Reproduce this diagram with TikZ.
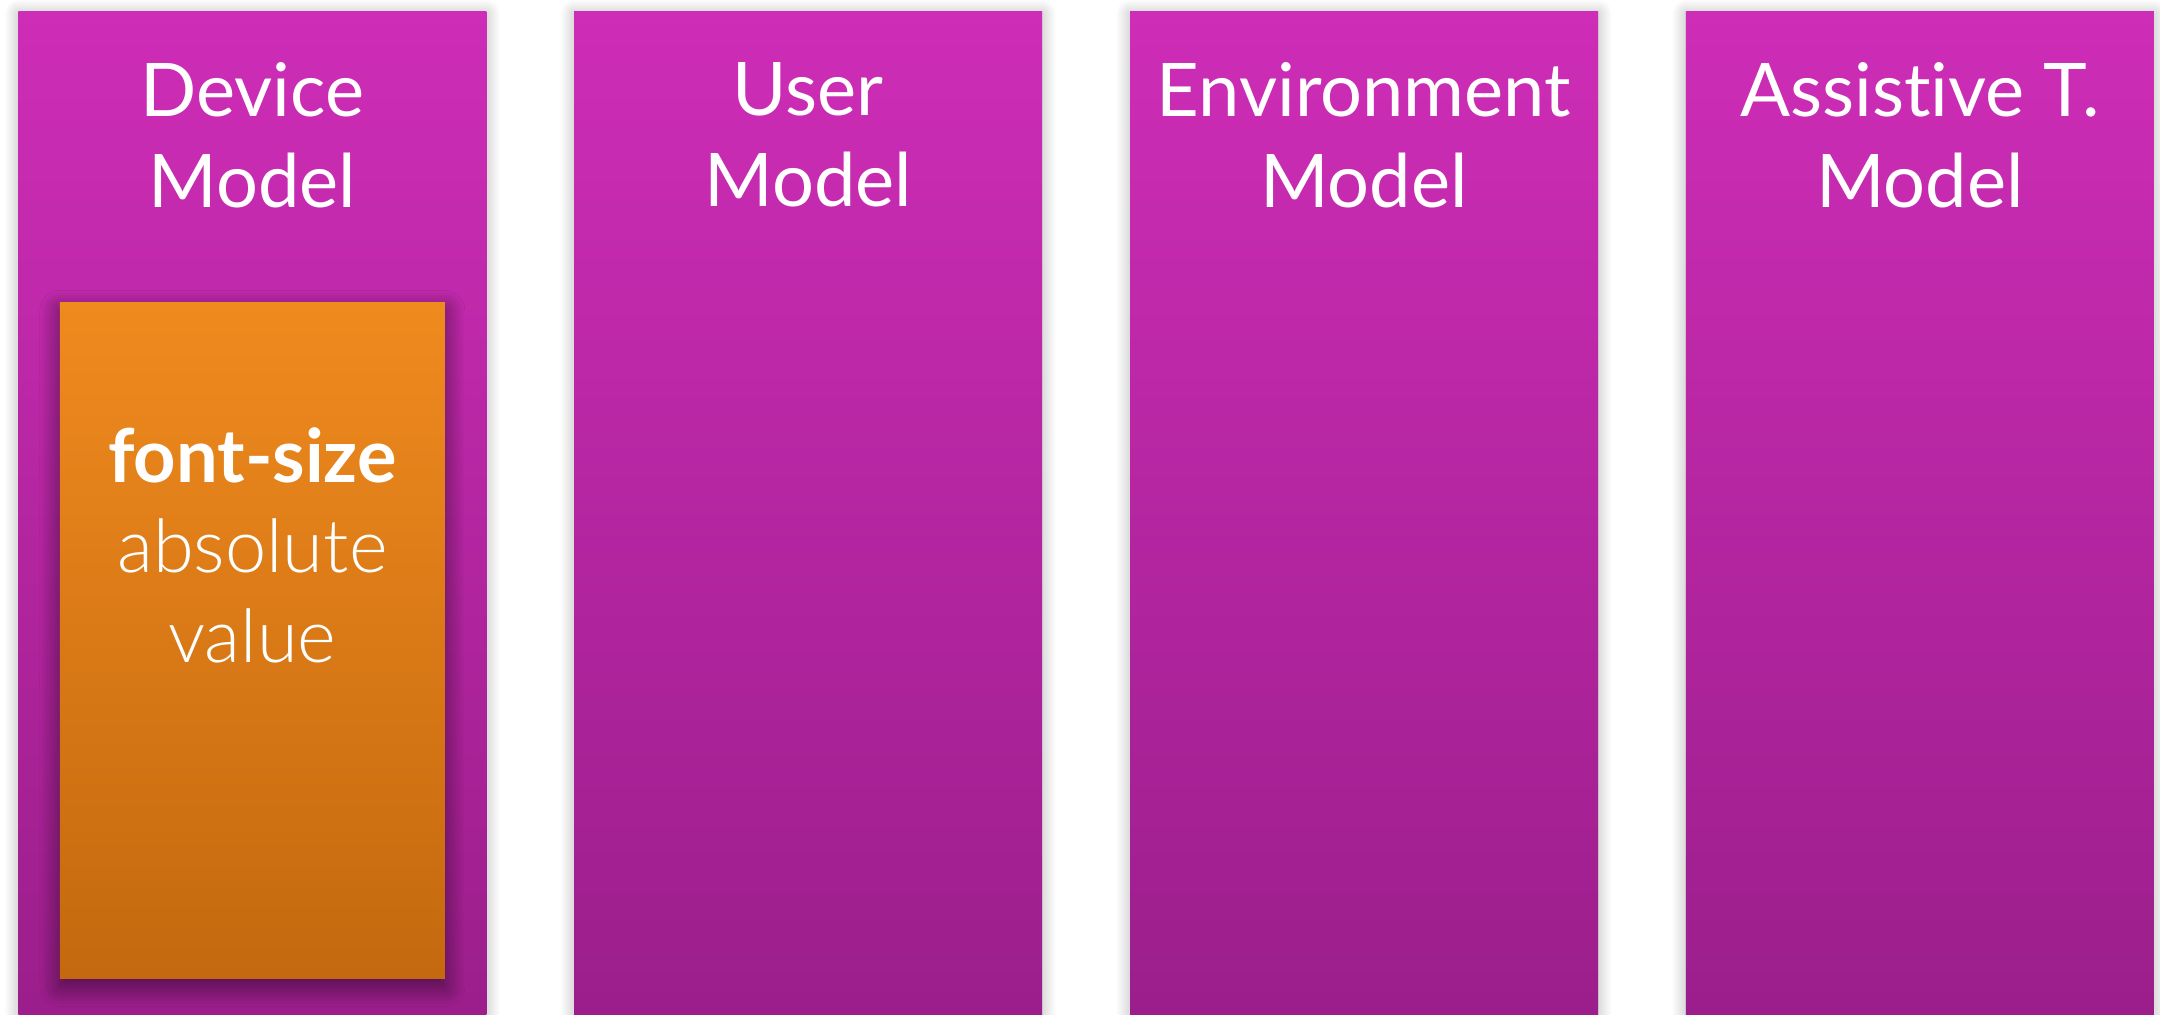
\documentclass[tikz,border=0pt]{standalone}
\usepackage{fontspec}
\setmainfont{Lato}[Ligatures={NoCommon,NoRare}]
\newfontfamily\lightfont{Lato Light}[Ligatures={NoCommon,NoRare}]
\usetikzlibrary{positioning,shadows.blur}
\definecolor{magtop}{HTML}{CE2DB7}
\definecolor{magbot}{HTML}{9B1E8B}
\definecolor{orgtop}{HTML}{EF8A1E}
\definecolor{orgbot}{HTML}{C4690F}

\begin{document}
\begin{tikzpicture}[x=0.5pt, y=-0.5pt,
    model/.style={rectangle, inner sep=0pt, minimum width=234pt, minimum height=505pt,
      top color=magtop, bottom color=magbot,
      blur shadow={shadow xshift=0pt, shadow yshift=-1pt, shadow blur radius=7pt,
        shadow blur steps=20, shadow opacity=30}},
    title/.style={anchor=north, inner sep=0pt, text=white, align=center,
      font=\fontsize{37}{45.5}\selectfont, yshift=-25.5pt},
    feature/.style={rectangle, inner sep=0pt, minimum width=192.5pt, minimum height=338pt,
      top color=orgtop, bottom color=orgbot,
      blur shadow={shadow xshift=0pt, shadow yshift=-4pt, shadow blur radius=10pt,
        shadow blur steps=24, shadow opacity=55}},
    attr/.style={inner sep=0pt, text=white, align=center, font=\fontsize{37}{45}\selectfont}]
    \useasboundingbox (0,0) rectangle (2160,1014);

    % the four model columns
    \node[model, anchor=north west] (device) at (18,11) {};
    \node[model, right=43.5pt of device] (user) {};
    \node[model, right=43.5pt of user] (environment) {};
    \node[model, right=43.5pt of environment] (assistive) {};

    \node[title] (devicetitle) at (device.north) {Device\\Model};
    \node[title] (usertitle) at (user.north) {User\\Model};
    \node[title] (environmenttitle) at (environment.north) {Environment\\Model};
    \node[title] (assistivetitle) at (assistive.north) {Assistive T.\\Model};

    % property inside the device model
    \node[feature, below=145.5pt of device.north] (fontsize) {};
    \node[attr, below=62.5pt of fontsize.north] (fontsizetext)
        {{\bfseries font-size}\\{\lightfont absolute}\\{\lightfont value}};
\end{tikzpicture}
\end{document}
